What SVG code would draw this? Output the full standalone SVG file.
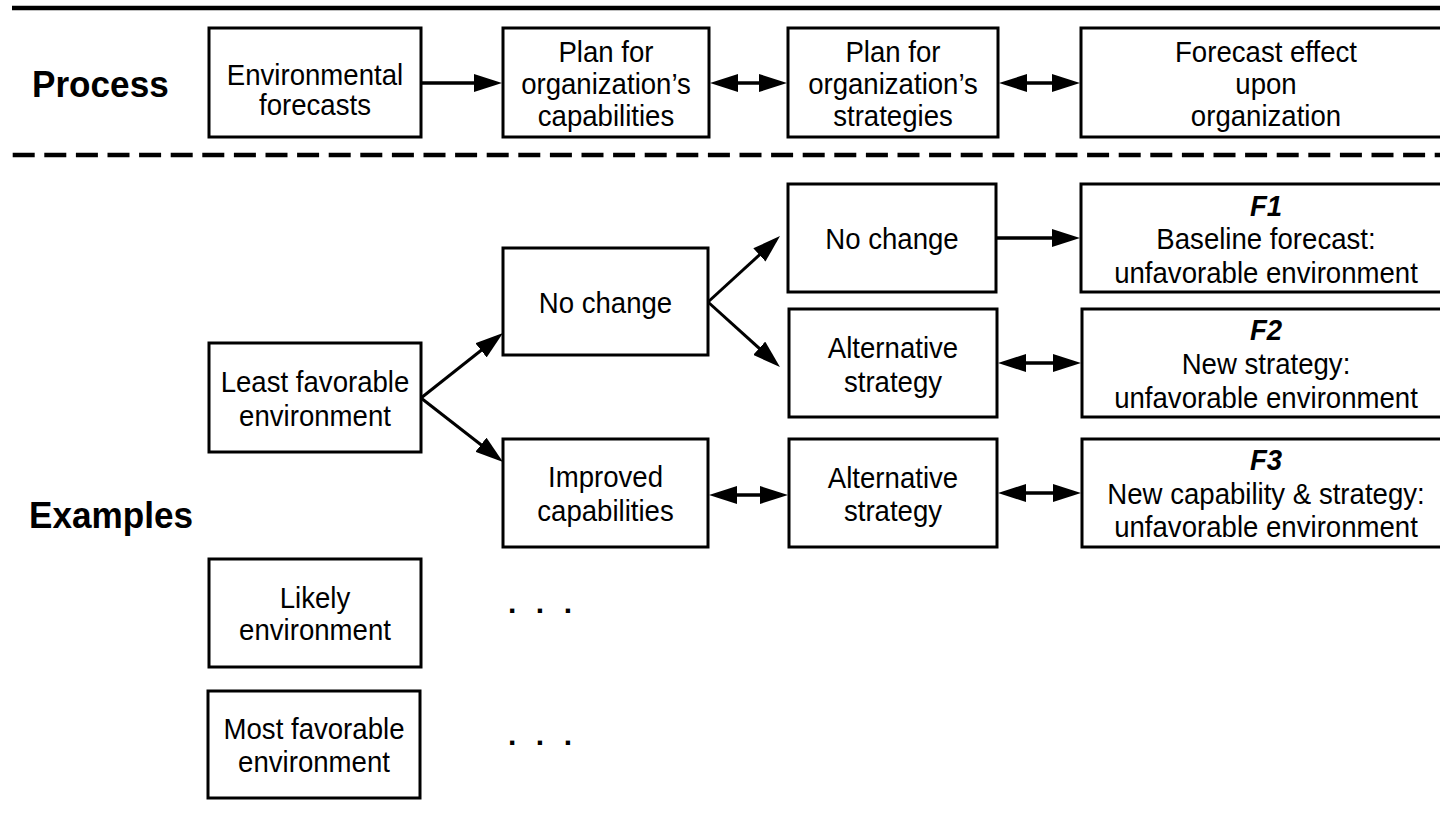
<svg xmlns="http://www.w3.org/2000/svg" width="1440" height="821" viewBox="0 0 1440 821">
  <style>
    .box { fill: #ffffff; stroke: #000000; stroke-width: 3; }
    .t { font-family: "Liberation Sans", Arial, sans-serif; font-size: 30px; fill: #000000; text-anchor: middle; }
    .f { font-family: "Liberation Sans", Arial, sans-serif; font-size: 30px; font-weight: bold; font-style: italic; fill: #000000; text-anchor: middle; }
    .lbl { font-family: "Liberation Sans", Arial, sans-serif; font-size: 37px; font-weight: bold; fill: #000000; }
    .dots { font-family: "Liberation Sans", Arial, sans-serif; font-size: 30px; font-weight: bold; fill: #000000; letter-spacing: 5.6px; }
    .conn { stroke: #000000; stroke-width: 3.5; fill: none; }
    .diag { stroke: #000000; stroke-width: 3; fill: none; }
    .sep { stroke: #000000; stroke-width: 4.5; fill: none; }
  </style>
  <defs>
    <marker id="ah" viewBox="0 0 28 18" refX="22" refY="9" markerWidth="28" markerHeight="18" markerUnits="userSpaceOnUse" orient="auto-start-reverse">
      <path d="M0,0 L28,9 L0,18 z" fill="#000000"/>
    </marker>
  </defs>

  <rect x="0" y="0" width="1440" height="821" fill="#ffffff"/>

  <g id="separators">
    <line class="sep" x1="12" y1="8" x2="1440" y2="8"/>
    <line class="sep" x1="12.7" y1="155" x2="1440" y2="155" stroke-dasharray="22 9.6"/>
  </g>

  <g id="labels">
    <text class="lbl" transform="matrix(0.95 0 0 1 32 97)" x="0" y="0">Process</text>
    <text class="lbl" transform="matrix(0.95 0 0 1 29 528)" x="0" y="0">Examples</text>
  </g>

  <g id="connectors">
    <line class="conn" x1="421" y1="83" x2="496" y2="83" marker-end="url(#ah)"/>
    <line class="conn" x1="716" y1="83" x2="781" y2="83" marker-start="url(#ah)" marker-end="url(#ah)"/>
    <line class="conn" x1="1005" y1="83" x2="1074" y2="83" marker-start="url(#ah)" marker-end="url(#ah)"/>
    <line class="diag" x1="421" y1="398" x2="498.3" y2="336.7" marker-end="url(#ah)"/>
    <line class="diag" x1="421" y1="398" x2="498.3" y2="458.3" marker-end="url(#ah)"/>
    <line class="diag" x1="708" y1="302" x2="775.6" y2="240.1" marker-end="url(#ah)"/>
    <line class="diag" x1="708" y1="302" x2="775.5" y2="363" marker-end="url(#ah)"/>
    <line class="conn" x1="996" y1="238" x2="1074" y2="238" marker-end="url(#ah)"/>
    <line class="conn" x1="1004" y1="363" x2="1075" y2="363" marker-start="url(#ah)" marker-end="url(#ah)"/>
    <line class="conn" x1="715" y1="495" x2="782" y2="495" marker-start="url(#ah)" marker-end="url(#ah)"/>
    <line class="conn" x1="1004" y1="493" x2="1075" y2="493" marker-start="url(#ah)" marker-end="url(#ah)"/>
  </g>

  <g id="n-env-forecasts">
    <rect class="box" x="209" y="28" width="212" height="109"/>
    <text class="t" transform="matrix(0.92 0 0 1 315 85)" x="0" y="0">Environmental</text>
    <text class="t" transform="matrix(0.92 0 0 1 315 115)" x="0" y="0">forecasts</text>
  </g>
  <g id="n-plan-capabilities">
    <rect class="box" x="503" y="28" width="206" height="109"/>
    <text class="t" transform="matrix(0.92 0 0 1 606 62)" x="0" y="0">Plan for</text>
    <text class="t" transform="matrix(0.92 0 0 1 606 94)" x="0" y="0">organization’s</text>
    <text class="t" transform="matrix(0.92 0 0 1 606 126)" x="0" y="0">capabilities</text>
  </g>
  <g id="n-plan-strategies">
    <rect class="box" x="788" y="28" width="210" height="109"/>
    <text class="t" transform="matrix(0.92 0 0 1 893 62)" x="0" y="0">Plan for</text>
    <text class="t" transform="matrix(0.92 0 0 1 893 94)" x="0" y="0">organization’s</text>
    <text class="t" transform="matrix(0.92 0 0 1 893 126)" x="0" y="0">strategies</text>
  </g>
  <g id="n-forecast-effect">
    <rect class="box" x="1081" y="28" width="370" height="109"/>
    <text class="t" transform="matrix(0.92 0 0 1 1266 62)" x="0" y="0">Forecast effect</text>
    <text class="t" transform="matrix(0.92 0 0 1 1266 94)" x="0" y="0">upon</text>
    <text class="t" transform="matrix(0.92 0 0 1 1266 126)" x="0" y="0">organization</text>
  </g>

  <g id="n-least">
    <rect class="box" x="209" y="343" width="212" height="109"/>
    <text class="t" transform="matrix(0.92 0 0 1 315 392)" x="0" y="0">Least favorable</text>
    <text class="t" transform="matrix(0.92 0 0 1 315 426)" x="0" y="0">environment</text>
  </g>
  <g id="n-nochange-1">
    <rect class="box" x="503" y="248" width="205" height="107"/>
    <text class="t" transform="matrix(0.92 0 0 1 605.5 313)" x="0" y="0">No change</text>
  </g>
  <g id="n-improved">
    <rect class="box" x="503" y="439" width="205" height="108"/>
    <text class="t" transform="matrix(0.92 0 0 1 605.5 487)" x="0" y="0">Improved</text>
    <text class="t" transform="matrix(0.92 0 0 1 605.5 521)" x="0" y="0">capabilities</text>
  </g>
  <g id="n-nochange-2">
    <rect class="box" x="788" y="184" width="208" height="108"/>
    <text class="t" transform="matrix(0.92 0 0 1 892 249)" x="0" y="0">No change</text>
  </g>
  <g id="n-alt-1">
    <rect class="box" x="789" y="309" width="208" height="108"/>
    <text class="t" transform="matrix(0.92 0 0 1 893 358)" x="0" y="0">Alternative</text>
    <text class="t" transform="matrix(0.92 0 0 1 893 392)" x="0" y="0">strategy</text>
  </g>
  <g id="n-alt-2">
    <rect class="box" x="789" y="439" width="208" height="108"/>
    <text class="t" transform="matrix(0.92 0 0 1 893 488)" x="0" y="0">Alternative</text>
    <text class="t" transform="matrix(0.92 0 0 1 893 521)" x="0" y="0">strategy</text>
  </g>
  <g id="n-f1">
    <rect class="box" x="1081" y="184" width="370" height="108"/>
    <text class="f" transform="matrix(0.92 0 0 1 1266 216)" x="0" y="0">F1</text>
    <text class="t" transform="matrix(0.92 0 0 1 1266 249)" x="0" y="0">Baseline forecast:</text>
    <text class="t" transform="matrix(0.92 0 0 1 1266 283)" x="0" y="0">unfavorable environment</text>
  </g>
  <g id="n-f2">
    <rect class="box" x="1082" y="309" width="370" height="108"/>
    <text class="f" transform="matrix(0.92 0 0 1 1266 340)" x="0" y="0">F2</text>
    <text class="t" transform="matrix(0.92 0 0 1 1266 374)" x="0" y="0">New strategy:</text>
    <text class="t" transform="matrix(0.92 0 0 1 1266 408)" x="0" y="0">unfavorable environment</text>
  </g>
  <g id="n-f3">
    <rect class="box" x="1082" y="439" width="370" height="108"/>
    <text class="f" transform="matrix(0.92 0 0 1 1266 470)" x="0" y="0">F3</text>
    <text class="t" transform="matrix(0.92 0 0 1 1266 504)" x="0" y="0">New capability &amp; strategy:</text>
    <text class="t" transform="matrix(0.92 0 0 1 1266 537)" x="0" y="0">unfavorable environment</text>
  </g>

  <g id="n-likely">
    <rect class="box" x="209" y="559" width="212" height="108"/>
    <text class="t" transform="matrix(0.92 0 0 1 315 608)" x="0" y="0">Likely</text>
    <text class="t" transform="matrix(0.92 0 0 1 315 640)" x="0" y="0">environment</text>
  </g>
  <g id="n-most">
    <rect class="box" x="208" y="691" width="212" height="107"/>
    <text class="t" transform="matrix(0.92 0 0 1 314 739)" x="0" y="0">Most favorable</text>
    <text class="t" transform="matrix(0.92 0 0 1 314 772)" x="0" y="0">environment</text>
  </g>

  <g id="ellipses">
    <text class="dots" x="508" y="613">. . .</text>
    <text class="dots" x="508" y="745">. . .</text>
  </g>
</svg>
